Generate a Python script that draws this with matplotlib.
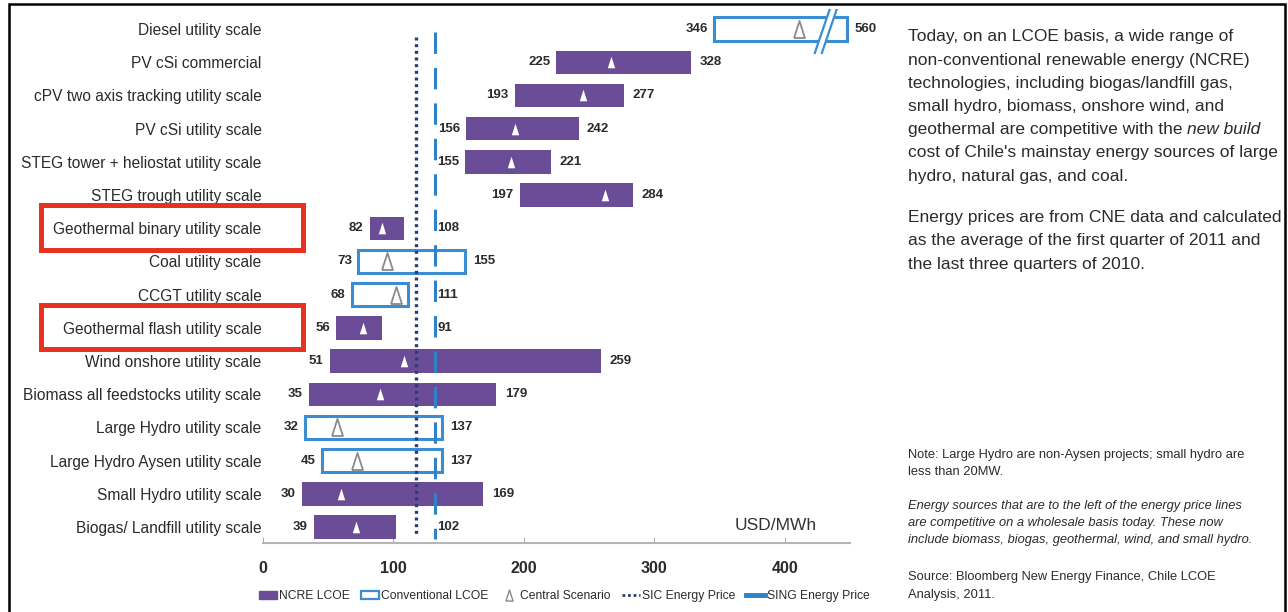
import matplotlib
matplotlib.use("Agg")
import matplotlib.pyplot as plt
import matplotlib.patches as mpatches
from matplotlib.lines import Line2D
from matplotlib.transforms import blended_transform_factory

plt.rcParams['font.family'] = ['Liberation Sans', 'DejaVu Sans']

# Data (USD/MWh)
categories = ['Diesel utility scale', 'PV cSi commercial', 'cPV two axis tracking utility scale',
              'PV cSi utility scale', 'STEG tower + heliostat utility scale', 'STEG trough utility scale',
              'Geothermal binary utility scale', 'Coal utility scale', 'CCGT utility scale',
              'Geothermal flash utility scale', 'Wind onshore utility scale',
              'Biomass all feedstocks utility scale', 'Large Hydro utility scale',
              'Large Hydro Aysen utility scale', 'Small Hydro utility scale',
              'Biogas/ Landfill utility scale']
low = [346, 225, 193, 156, 155, 197, 82, 73, 68, 56, 51, 35, 32, 45, 30, 39]
high = [560, 328, 277, 242, 221, 284, 108, 155, 111, 91, 259, 179, 137, 137, 169, 102]
central = [411, 267, 245, 193, 190, 262, 91, 95, 102, 77, 108, 90, 57, 72, 60, 71]
conventional = [True, False, False, False, False, False, False, True, True,
                False, False, False, True, True, False, False]
highlighted = ['Geothermal binary utility scale', 'Geothermal flash utility scale']
sic_price = 117
sing_price = 132
x_ticks = [0, 100, 200, 300, 400]

# axis is broken for values beyond this
x_max = 450
cap = 447.5
break_x = 432

purple = '#6b4c97'
blue = '#3a8dd2'
navy = '#2a3d78'
sing_blue = '#2f82c6'
txt = '#2b2b2b'

fig = plt.figure(figsize=(12.88, 6.12), dpi=100)
ax = fig.add_axes([0.2042, 0.1127, 0.4557, 0.8723])

rows = list(range(len(categories)))
shown_high = [min(h, cap) for h in high]
widths = [sh - l for sh, l in zip(shown_high, low)]

ncre_rows = [r for r in rows if not conventional[r]]
conv_rows = [r for r in rows if conventional[r]]

ax.barh(ncre_rows, [widths[r] for r in ncre_rows], left=[low[r] for r in ncre_rows],
        height=0.7, color=purple, zorder=2)
ax.barh(conv_rows, [widths[r] for r in conv_rows], left=[low[r] for r in conv_rows],
        height=0.7, facecolor='white', edgecolor=blue, linewidth=2.2, zorder=2)

# energy price lines
ax.plot([sic_price, sic_price], [0.25, 15.3], color=navy, lw=2.4,
        linestyle=(0, (0.9, 1.1)), zorder=3)
ax.plot([sing_price, sing_price], [0.1, 15.35], color=sing_blue, lw=2.2,
        linestyle=(0, (7, 4.6)), zorder=3)

# central scenario triangles
tri = [(-0.32, -0.5), (0.32, -0.5), (0, 0.5), (-0.32, -0.5)]
ax.scatter([central[r] for r in ncre_rows], ncre_rows, marker=tri, s=70,
           color='white', linewidths=0, zorder=4)
ax.scatter([central[r] for r in conv_rows], conv_rows, marker=tri, s=150,
           facecolor='white', edgecolor='#8a8a8a', linewidths=1.3, zorder=4)

# axis break on the diesel box
for r in rows:
    if high[r] > cap:
        ax.fill([break_x - 9.2, break_x + 3.8, break_x + 9.2, break_x - 3.8],
                [r + 0.75, r - 0.75, r - 0.75, r + 0.75], color='white', zorder=2.5)
        for off in (-2.7, 2.7):
            ax.plot([break_x + off - 6.5, break_x + off + 6.5], [r + 0.75, r - 0.75],
                    color=blue, lw=1.6, zorder=3, solid_capstyle='butt')

# value labels
for r in rows:
    ax.annotate(str(low[r]), xy=(low[r], r), xytext=(-4.5, 0), textcoords='offset points',
                ha='right', va='center', fontsize=9.5, fontweight='bold', color=txt)
    if shown_high[r] < sing_price:
        ax.annotate(str(high[r]), xy=(sing_price, r), xytext=(1.5, 0),
                    textcoords='offset points', ha='left', va='center',
                    fontsize=9.5, fontweight='bold', color=txt)
    else:
        ax.annotate(str(high[r]), xy=(shown_high[r], r), xytext=(6, 0),
                    textcoords='offset points', ha='left', va='center',
                    fontsize=9.5, fontweight='bold', color=txt)

ax.set_xlim(0, x_max)
ax.set_ylim(len(categories) - 0.52, -0.6)
ax.set_yticks(rows)
ax.set_yticklabels(categories, fontsize=11.2, color=txt)
ax.tick_params(axis='y', length=0, pad=1)
ax.set_xticks(x_ticks)
ax.set_xticklabels([str(t) for t in x_ticks], fontsize=11.5, fontweight='bold', color=txt)
ax.tick_params(axis='x', direction='in', length=4, color='#b0b0b0', pad=13)
for s in ['top', 'right', 'left']:
    ax.spines[s].set_visible(False)
ax.spines['bottom'].set_color('#b5b5b5')
ax.spines['bottom'].set_linewidth(1.5)

ax.text(393, len(categories) - 1.05, 'USD/MWh', ha='center', va='center',
        fontsize=12.5, color='#333333')

# highlight boxes around geothermal labels
trans = blended_transform_factory(fig.transFigure, ax.transData)
for name in highlighted:
    r = categories.index(name)
    box = mpatches.Rectangle((41 / 1288, r - 0.7), 262 / 1288, 1.34, transform=trans,
                             fill=False, edgecolor='#e6321f', linewidth=3.6, clip_on=False)
    fig.patches.append(box)

# legend
handles = [mpatches.Patch(facecolor=purple, edgecolor=purple),
           mpatches.Patch(facecolor='white', edgecolor=blue, linewidth=1.6),
           Line2D([], [], marker=tri, linestyle='none', markerfacecolor='white',
                  markeredgecolor='#8a8a8a', markersize=8),
           Line2D([], [], color=navy, lw=2, linestyle=(0, (1, 1))),
           Line2D([], [], color=sing_blue, lw=3.5)]
labels = ['NCRE LCOE', 'Conventional LCOE', 'Central Scenario', 'SIC Energy Price',
          'SING Energy Price']
fig.legend(handles, labels, loc='center', bbox_to_anchor=(0.438, 0.026), ncol=5,
           frameon=False, fontsize=8.7, handlelength=1.5, handleheight=0.6,
           handletextpad=0.2, columnspacing=0.9, labelcolor=txt)

# right-hand commentary
para1 = ['Today, on an LCOE basis, a wide range of',
         'non-conventional renewable energy (NCRE)',
         'technologies, including biogas/landfill gas,',
         'small hydro, biomass, onshore wind, and',
         'geothermal are competitive with the ',
         "cost of Chile's mainstay energy sources of large",
         'hydro, natural gas, and coal.']
para2 = ['Energy prices are from CNE data and calculated',
         'as the average of the first quarter of 2011 and',
         'the last three quarters of 2010.']
note = ['Note: Large Hydro are non-Aysen projects; small hydro are', 'less than 20MW.']
note_it = ['Energy sources that are to the left of the energy price lines',
           'are competitive on a wholesale basis today. These now',
           'include biomass, biogas, geothermal, wind, and small hydro.']
source = ['Source: Bloomberg New Energy Finance, Chile LCOE', 'Analysis, 2011.']

x0 = 908 / 1288
for i, line in enumerate(para1):
    t = fig.text(x0, 1 - (37 + 23.2 * i) / 612, line, fontsize=12.5, color=txt, va='center')
    if i == 4:
        ax.annotate('new build', xy=(1, 0), xycoords=t, ha='left', va='bottom',
                    fontsize=12.5, style='italic', color=txt, annotation_clip=False)
for i, line in enumerate(para2):
    fig.text(x0, 1 - (217 + 23.5 * i) / 612, line, fontsize=12.5, color=txt, va='center')

for i, line in enumerate(note):
    fig.text(x0, 1 - (455 + 17 * i) / 612, line, fontsize=9.3, color=txt, va='center')
for i, line in enumerate(note_it):
    fig.text(x0, 1 - (506 + 17 * i) / 612, line, fontsize=9.3, color=txt, va='center',
             style='italic')
for i, line in enumerate(source):
    fig.text(x0, 1 - (577 + 18 * i) / 612, line, fontsize=9.3, color=txt, va='center')

# outer frame
frame = mpatches.Rectangle((9 / 1288, -0.05), 1276 / 1288, 1.05 - 4 / 612,
                           transform=fig.transFigure, fill=False, edgecolor='black',
                           linewidth=1.8, clip_on=False)
fig.patches.append(frame)

fig.savefig('out.png', dpi=100)
